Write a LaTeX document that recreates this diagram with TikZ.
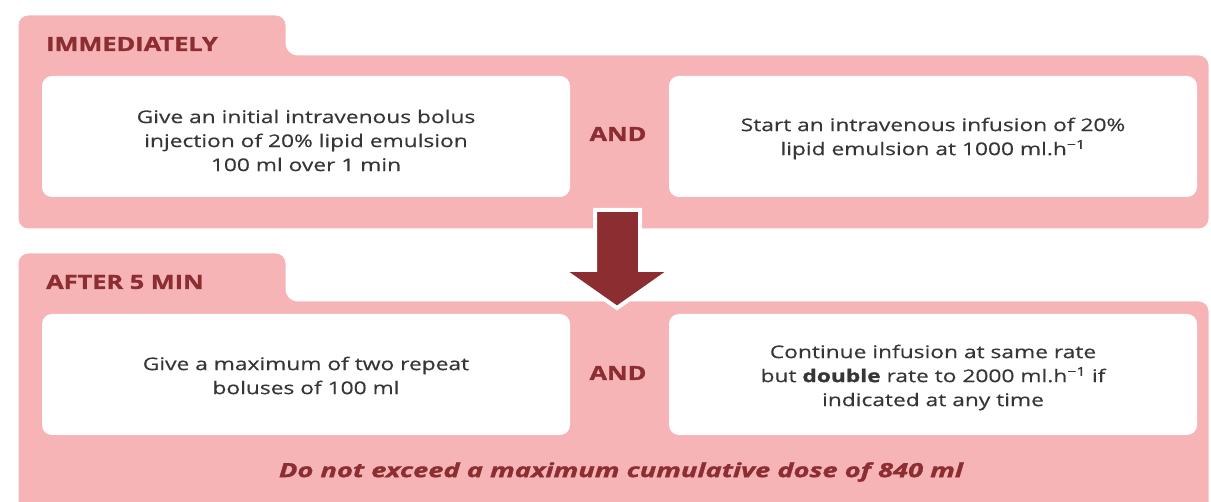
\documentclass[tikz,border=0pt]{standalone}
\usepackage{fontspec}
\setmainfont{Open Sans}[FakeStretch=1.3, FakeBold=0.4]
\newfontfamily\heavy{Open Sans}[FakeStretch=1.3, FakeBold=1.4]
\newfontfamily\notefont{Open Sans}[FakeStretch=1.4, FakeBold=1.4]
\definecolor{panelpink}{HTML}{F6B4B6}
\definecolor{darkred}{HTML}{8C2D31}
\definecolor{bodygrey}{HTML}{363636}
\begin{document}
\begin{tikzpicture}[x=1pt,y=-1pt,
  panel/.style={fill=panelpink,draw=white,line width=3pt,rounded corners=11pt},
  whitebox/.style={fill=white,rounded corners=10pt,minimum width=528pt,minimum height=121pt,inner sep=0pt},
  boxtext/.style={inner sep=0pt,align=center,text=bodygrey,font=\fontsize{17.5}{24}\selectfont},
  heading/.style={anchor=west,text=darkred,font=\heavy\bfseries\fontsize{19.5}{24}\selectfont,inner sep=0pt},
  andlabel/.style={text=darkred,font=\heavy\bfseries\fontsize{19.5}{24}\selectfont,inner sep=0pt},
  bigarrow/.style={fill=darkred,draw=white,line width=4pt,line join=miter}
]
\useasboundingbox (0,0) rectangle (1211,502);
\clip (0,0) rectangle (1211,502);
% panel 1
\draw[panel] (17,230) -- (17,14) -- (287,14) -- (287,54) -- (1210,54) -- (1210,230) -- cycle;
% panel 2
\draw[panel] (17,530) -- (17,252) -- (287,252) -- (287,300) -- (1210,300) -- (1210,530) -- cycle;

\node[heading] (h1) at (46,44) {IMMEDIATELY};
\node[heading] (h2) at (46,282) {AFTER 5 MIN};

\node[whitebox] (b1) at (306,136.5) {};
\node[boxtext] (t1) at (306,140.5) {Give an initial intravenous bolus\\injection of 20\% lipid emulsion\\100 ml over 1 min};
\node[whitebox] (b2) at (933,136.5) {};
\node[boxtext] (t2) at (933,138.5) {Start an intravenous infusion of 20\%\\lipid emulsion at 1000 ml.h\textsuperscript{−1}};
\node[andlabel] (a1) at (618,134) {AND};

\node[whitebox] (b3) at (306,374.5) {};
\node[boxtext] (t3) at (306,375.5) {Give a maximum of two repeat\\boluses of 100 ml};
\node[whitebox] (b4) at (933,374.5) {};
\node[boxtext] (t4) at (933,377.5) {Continue infusion at same rate\\but {\heavy\bfseries double} rate to 2000 ml.h\textsuperscript{−1} if\\indicated at any time};
\node[andlabel] (a2) at (618,373) {AND};

\node[text=darkred,font=\notefont\bfseries\itshape\fontsize{19.5}{24}\selectfont,inner sep=0pt] (note) at (621,472) {Do not exceed a maximum cumulative dose of 840 ml};

% arrow between panels
\draw[bigarrow] (595,210) -- (640,210) -- (640,270) -- (671,270) -- (617,308) -- (563,270) -- (595,270) -- cycle;
\end{tikzpicture}
\end{document}
